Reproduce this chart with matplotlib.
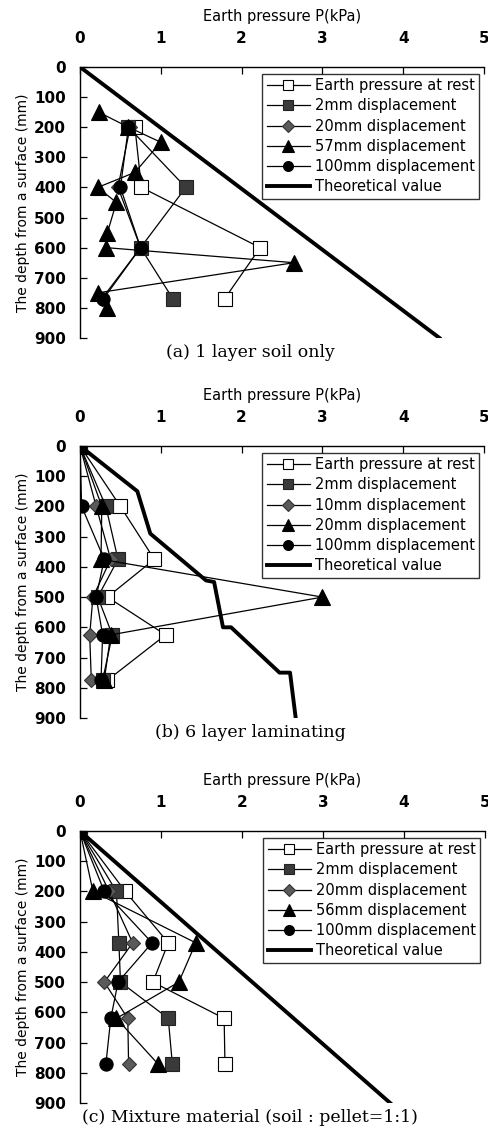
import matplotlib
matplotlib.use("Agg")
import matplotlib.pyplot as plt

# ---------------- DATA ----------------
# (a) 1 layer soil only
depth_a = [200, 400, 600, 770]
rest_a = [0.68, 0.76, 2.23, 1.79]
d2_a = [0.60, 1.31, 0.75, 1.15]
d20_a = [0.62, 0.47, 0.75, 0.27]
depth_a57 = [150, 200, 250, 350, 400, 450, 550, 600, 650, 750, 800]
d57_a = [0.23, 0.60, 1.00, 0.68, 0.22, 0.45, 0.34, 0.32, 2.65, 0.22, 0.34]
d100_a = [0.60, 0.50, 0.75, 0.29]
theory_depth_a = [0, 900]
theory_a = [0, 4.45]

# (b) 6 layer laminating
depth_b = [0, 200, 375, 500, 625, 775]
rest_b = [0, 0.50, 0.92, 0.34, 1.06, 0.34]
d2_b = [0, 0.32, 0.47, 0.22, 0.40, 0.28]
d10_b = [0, 0.20, 0.38, 0.16, 0.12, 0.14]
d20_b = [0, 0.27, 0.26, 3.00, 0.38, 0.30]
d100_b = [0, 0.02, 0.30, 0.20, 0.28, 0.26]
theory_depth_b = [0, 150, 290, 445, 450, 600, 600, 750, 750, 900]
theory_b = [0, 0.71, 0.87, 1.56, 1.66, 1.77, 1.87, 2.47, 2.60, 2.67]

# (c) Mixture material
depth_c = [0, 200, 370, 500, 620, 770]
rest_c = [0, 0.56, 1.09, 0.90, 1.78, 1.79]
d2_c = [0, 0.45, 0.48, 0.50, 1.09, 1.14]
d20_c = [0, 0.36, 0.65, 0.30, 0.59, 0.60]
d56_c = [0, 0.16, 1.43, 1.22, 0.45, 0.96]
d100_c = [0, 0.30, 0.89, 0.47, 0.38, 0.32]
theory_depth_c = [0, 900]
theory_c = [0, 3.83]

x_ticks = [0, 1, 2, 3, 4, 5]
y_ticks = [0, 100, 200, 300, 400, 500, 600, 700, 800, 900]

# ---------------- STYLE ----------------
plt.rcParams['font.family'] = ['DejaVu Sans']
STYLES = {
    'rest': dict(marker='s', mfc='white', mec='black', ms=10),
    'sq': dict(marker='s', mfc='#3a3a3a', mec='#222222', ms=10),
    'dia': dict(marker='D', mfc='#5a5a5a', mec='#333333', ms=7.5),
    'tri': dict(marker='^', mfc='black', mec='black', ms=11),
    'cir': dict(marker='o', mfc='black', mec='black', ms=9.5),
}


def draw_panel(ax, series, theory, caption):
    for x, y, label, key in series:
        ax.plot(x, y, color='black', lw=0.9, label=label, mew=0.8, **STYLES[key])
    ax.plot(theory[0], theory[1], color='black', lw=2.8, label='Theoretical value')

    ax.set_xlim(0, 5)
    ax.set_ylim(900, 0)
    ax.set_xticks(x_ticks)
    ax.set_yticks(y_ticks)
    ax.xaxis.tick_top()
    ax.xaxis.set_label_position('top')
    ax.tick_params(axis='both', direction='in', length=5, width=0.9, labelsize=11)
    ax.tick_params(axis='x', pad=15)
    ax.tick_params(axis='y', pad=10)
    for lab in ax.get_xticklabels() + ax.get_yticklabels():
        lab.set_fontweight('bold')
    ax.spines['right'].set_visible(False)
    ax.spines['bottom'].set_visible(False)
    ax.spines['top'].set_linewidth(1.0)
    ax.spines['left'].set_linewidth(1.0)
    ax.set_xlabel("Earth pressure P(kPa)", fontsize=10.5, labelpad=7)
    ax.set_ylabel("The depth from a surface (mm)", fontsize=10, labelpad=3)
    ax.patch.set_alpha(0)

    leg = ax.legend(loc='upper right', bbox_to_anchor=(0.988, 0.975),
                    borderaxespad=0, fontsize=10.5, frameon=True, fancybox=False,
                    edgecolor='black', handlelength=3.0, handletextpad=0.3,
                    labelspacing=0.36, borderpad=0.3, markerscale=0.75)
    leg.get_frame().set_linewidth(1.0)

    pos = ax.get_position()
    fig.text(0.512, pos.y0 - 0.013, caption, ha='center', va='center',
             fontsize=12.5, family='DejaVu Serif')


fig = plt.figure(figsize=(4.89, 11.33), dpi=100)

ax_a = fig.add_axes([0.1636, 0.7017, 0.826, 0.2392])
draw_panel(ax_a, [
    (rest_a, depth_a, 'Earth pressure at rest', 'rest'),
    (d2_a, depth_a, '2mm displacement', 'sq'),
    (d20_a, depth_a, '20mm displacement', 'dia'),
    (d57_a, depth_a57, '57mm displacement', 'tri'),
    (d100_a, depth_a, '100mm displacement', 'cir'),
], (theory_a, theory_depth_a), "(a) 1 layer soil only")

ax_b = fig.add_axes([0.1636, 0.3663, 0.826, 0.2401])
draw_panel(ax_b, [
    (rest_b, depth_b, 'Earth pressure at rest', 'rest'),
    (d2_b, depth_b, '2mm displacement', 'sq'),
    (d10_b, depth_b, '10mm displacement', 'dia'),
    (d20_b, depth_b, '20mm displacement', 'tri'),
    (d100_b, depth_b, '100mm displacement', 'cir'),
], (theory_b, theory_depth_b), "(b) 6 layer laminating")

ax_c = fig.add_axes([0.1636, 0.0265, 0.828, 0.2400])
draw_panel(ax_c, [
    (rest_c, depth_c, 'Earth pressure at rest', 'rest'),
    (d2_c, depth_c, '2mm displacement', 'sq'),
    (d20_c, depth_c, '20mm displacement', 'dia'),
    (d56_c, depth_c, '56mm displacement', 'tri'),
    (d100_c, depth_c, '100mm displacement', 'cir'),
], (theory_c, theory_depth_c), "(c) Mixture material (soil : pellet=1:1)")

fig.savefig("out.png", dpi=100)
